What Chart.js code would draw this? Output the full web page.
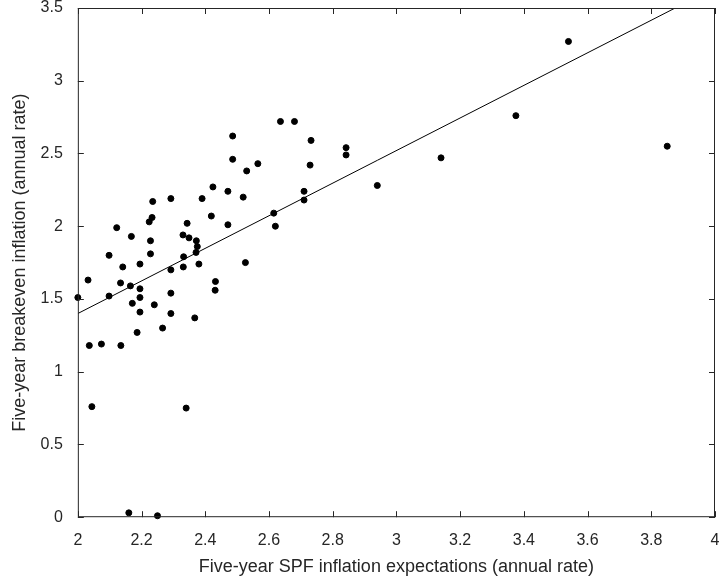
<!DOCTYPE html>
<html><head><meta charset="utf-8">
<script src="https://cdn.jsdelivr.net/npm/chart.js@4"></script>
<style>body{margin:0;background:#fff}#wrap{width:720px;height:586px}</style>
</head><body><div id="wrap"><canvas id="c"></canvas></div>
<script>
const spfX = [2.0,2.032,2.036,2.074,2.135,2.098,2.098,2.122,2.134,2.141,2.168,2.165,2.171,2.195,2.195,2.195,2.195,2.186,2.228,2.228,2.224,2.233,2.235,2.24,2.266,2.292,2.292,2.292,2.292,2.33,2.343,2.332,2.331,2.349,2.372,2.375,2.371,2.38,2.367,2.39,2.424,2.419,2.432,2.431,2.471,2.471,2.486,2.486,2.519,2.53,2.526,2.565,2.615,2.62,2.636,2.68,2.732,2.729,2.71,2.71,2.842,2.842,2.044,2.16,2.25,2.34,2.94,3.14,3.375,3.54,3.85];
const breakevenY = [1.51,1.63,1.18,1.19,1.18,1.52,1.80,1.99,1.61,1.72,1.93,1.59,1.47,1.74,1.57,1.51,1.41,1.27,1.90,1.81,2.03,2.06,2.17,1.46,1.30,2.19,1.70,1.54,1.40,1.94,2.02,1.79,1.72,1.92,1.90,1.86,1.82,1.74,1.37,2.19,2.27,2.07,1.62,1.56,2.24,2.01,2.62,2.46,2.20,2.38,1.75,2.43,2.09,2.00,2.72,2.72,2.59,2.42,2.24,2.18,2.54,2.49,0.76,0.03,0.01,0.75,2.28,2.47,2.76,3.27,2.55];
const fitX = [2, 4];
const fitY = [1.40, 3.64];
const xTicks = [2,2.2,2.4,2.6,2.8,3,3.2,3.4,3.6,3.8,4];
const yTicks = [0,0.5,1,1.5,2,2.5,3,3.5];

const boxPlugin = {
  id: "box",
  afterDraw(chart) {
    const {ctx, chartArea: a, scales: {x, y}} = chart;
    ctx.save();
    ctx.strokeStyle = "#262626"; ctx.lineWidth = 1;
    ctx.strokeRect(a.left + 0.5, a.top + 0.5, a.width - 1, a.height - 1);
    ctx.beginPath();
    xTicks.forEach(v => { const p = Math.round(x.getPixelForValue(v)) + 0.5;
      ctx.moveTo(p, a.bottom); ctx.lineTo(p, a.bottom - 6);
      ctx.moveTo(p, a.top); ctx.lineTo(p, a.top + 6); });
    yTicks.forEach(v => { const p = Math.round(y.getPixelForValue(v)) + 0.5;
      ctx.moveTo(a.left, p); ctx.lineTo(a.left + 6, p);
      ctx.moveTo(a.right, p); ctx.lineTo(a.right - 6, p); });
    ctx.stroke(); ctx.restore();
  }
};

const tickFont = {family: "Liberation Sans", size: 16};
const titleFont = {family: "Liberation Sans", size: 18};

new Chart(document.getElementById("c"), {
  type: "scatter",
  data: {
    datasets: [{
      data: spfX.map((v, i) => ({x: v, y: breakevenY[i]})),
      backgroundColor: "#000", borderColor: "#000", pointRadius: 3, clip: false
    }, {
      type: "line",
      data: fitX.map((v, i) => ({x: v, y: fitY[i]})),
      borderColor: "#000", borderWidth: 1, pointRadius: 0, fill: false
    }]
  },
  options: {
    responsive: true, maintainAspectRatio: false, animation: false,
    layout: {padding: {top: 8, right: 3, left: 5, bottom: 4}},
    plugins: {legend: {display: false}, tooltip: {enabled: false}},
    scales: {
      x: {
        type: "linear", min: 2, max: 4,
        afterBuildTicks: s => { s.ticks = xTicks.map(v => ({value: v})); },
        afterFit: s => { s.paddingRight = 0; s.paddingLeft = 0; },
        grid: {display: false}, border: {display: false},
        ticks: {color: "#262626", font: tickFont, padding: 6, callback: v => String(v)},
        title: {display: true, text: "Five-year SPF inflation expectations (annual rate)", color: "#262626",
          font: titleFont, padding: {top: 0}}
      },
      y: {
        min: 0, max: 3.5,
        afterBuildTicks: s => { s.ticks = yTicks.map(v => ({value: v})); },
        afterFit: s => { s.paddingTop = 0; s.paddingBottom = 0; },
        grid: {display: false}, border: {display: false},
        ticks: {color: "#262626", font: tickFont, padding: 7, callback: v => String(v)},
        title: {display: true, text: "Five-year breakeven inflation (annual rate)", color: "#262626",
          font: titleFont, padding: {bottom: 3}}
      }
    }
  },
  plugins: [boxPlugin]
});
</script></body></html>
